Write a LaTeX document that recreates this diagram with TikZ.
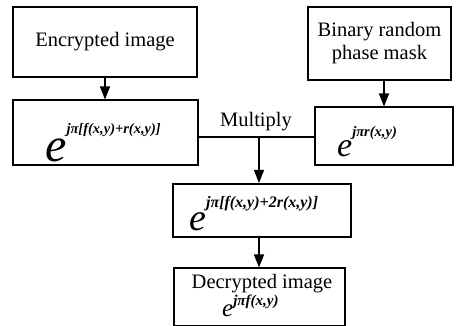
\documentclass[tikz,border=0pt]{standalone}
\usepackage{fontspec}
\setmainfont{Liberation Serif}
\usetikzlibrary{arrows.meta}
\newcommand{\supf}{\fontsize{14.5}{14.5}\selectfont\bfseries\itshape}
\begin{document}
\begin{tikzpicture}[x=1pt,y=-1pt,
  box/.style={draw,line width=1.1pt,inner sep=0pt},
  lbl/.style={font=\fontsize{20.5}{23}\selectfont,align=center,inner sep=0pt},
  arr/.style={line width=1.4pt,-{Triangle[length=13pt,width=10pt]}},
  ln/.style={line width=1.4pt}]
\useasboundingbox (0,0) rectangle (456,326);
% boxes
\node[box,lbl,minimum width=184pt,minimum height=70pt] (enc) at (105,42) {Encrypted image};
\node[box,lbl,minimum width=143pt,minimum height=73pt] (bin) at (379.5,43.5) {Binary random\\phase mask};
\node[box,minimum width=185pt,minimum height=65pt] (m1) at (105.5,132.5) {};
\node[box,minimum width=138pt,minimum height=58pt] (m2) at (384,136) {};
\node[box,line width=2pt,minimum width=178pt,minimum height=53pt] (m3) at (262,210.5) {};
\node[box,minimum width=171pt,minimum height=58pt] (dec) at (259.5,297) {};
% texts
\node[inner sep=0pt,anchor=base west] (m1t) at (45,162) {{\fontsize{48}{48}\selectfont\itshape e}\raisebox{28pt}{\supf jπ[f(x,y)+r(x,y)]}};
\node[inner sep=0pt,anchor=base west] (m2t) at (337,157) {{\fontsize{34}{34}\selectfont\itshape e}\raisebox{20pt}{\supf jπr(x,y)}};
\node[inner sep=0pt,anchor=base west] (m3t) at (189,231) {{\fontsize{38}{38}\selectfont\itshape e}\raisebox{23pt}{\fontsize{16}{16}\selectfont\bfseries\itshape jπ[f(x,y)+2r(x,y)]}};
\node[lbl,anchor=base] (dect) at (262,289) {Decrypted image};
\node[inner sep=0pt,anchor=base west] (dece) at (222,317) {{\fontsize{25}{25}\selectfont\itshape e}\raisebox{11pt}{\fontsize{15}{15}\selectfont\bfseries\itshape jπf(x,y)}};
\node[lbl,anchor=base] (mul) at (256,127) {Multiply};
% connectors
\coordinate (j) at (259,137);
\draw[arr] (enc.south -| 105,0) -- (m1.north -| 105,0);
\draw[arr] (bin.south -| m2.north) -- (m2.north);
\draw[ln] (m1.east |- j) -- (m2.west |- j);
\draw[arr] (j) -- (j |- m3.north);
\draw[arr] (m3.south -| j) -- (dec.north -| j);
\end{tikzpicture}
\end{document}
